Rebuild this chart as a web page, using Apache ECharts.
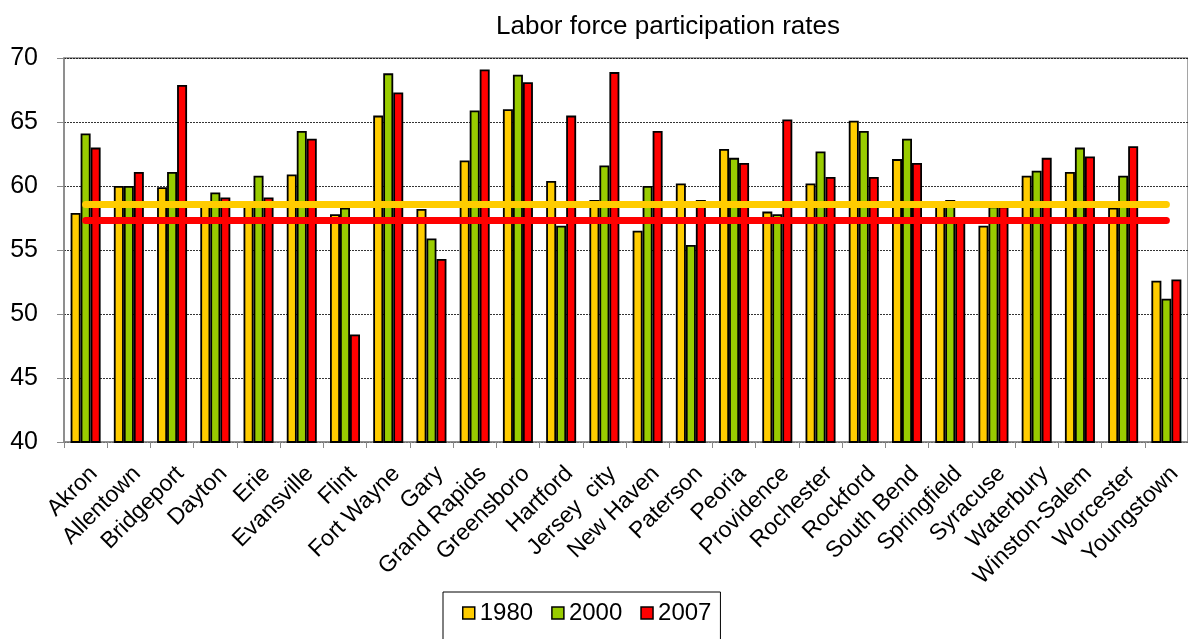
<!DOCTYPE html>
<html>
<head>
<meta charset="utf-8">
<script src="https://cdn.jsdelivr.net/npm/echarts@6/dist/echarts.min.js"></script>
<style>
html,body{margin:0;padding:0;background:#fff;}
#c{width:1188px;height:639px;}
</style>
</head>
<body>
<div id="c"></div>
<script>
const categories = ["Akron","Allentown","Bridgeport","Dayton","Erie","Evansville","Flint","Fort Wayne","Gary","Grand Rapids","Greensboro","Hartford","Jersey  city","New Haven","Paterson","Peoria","Providence","Rochester","Rockford","South Bend","Springfield","Syracuse","Waterbury","Winston-Salem","Worcester","Youngstown"];
const y1980 = [57.9,60.0,59.9,58.5,58.5,60.9,57.8,65.5,58.2,62.0,66.0,60.4,58.9,56.5,60.2,62.9,58.0,60.2,65.1,62.1,58.6,56.9,60.8,61.1,58.3,52.6];
const y2000 = [64.1,60.0,61.1,59.5,60.8,64.3,58.3,68.8,55.9,65.9,68.7,56.9,61.6,60.0,55.4,62.2,57.8,62.7,64.3,63.7,58.9,58.4,61.2,63.0,60.8,51.2];
const y2007 = [63.0,61.1,67.9,59.1,59.1,63.7,48.4,67.3,54.3,69.1,68.1,65.5,68.9,64.3,58.9,61.8,65.2,60.7,60.7,61.8,57.3,58.4,62.2,62.3,63.1,52.7];
const avg1980 = 58.55;
const avg2007 = 57.3;
const yTicks = {min: 40, max: 70, interval: 5};

const FONT = "Liberation Sans, Arial, sans-serif";
const chart = echarts.init(document.getElementById('c'), null, {renderer: 'canvas'});
const first = categories[0], last = categories[categories.length - 1];
const barStyle = (c) => ({color: c, borderColor: '#000', borderWidth: 1.8});
chart.setOption({
  animation: false,
  backgroundColor: '#fff',
  title: {
    text: 'Labor force participation rates',
    left: 491, top: 9,
    textStyle: {fontFamily: FONT, fontSize: 26, fontWeight: 'normal', color: '#000'}
  },
  legend: {
    data: ['1980', '2000', '2007'],
    left: 443, top: 592,
    padding: [9, 9, 30, 19],
    borderColor: '#000', borderWidth: 1,
    itemWidth: 12, itemHeight: 12, itemGap: 18,
    icon: 'rect',
    itemStyle: {borderColor: '#000', borderWidth: 1.5},
    textStyle: {fontFamily: FONT, fontSize: 24, color: '#000'}
  },
  grid: {
    left: 64, top: 58, width: 1126, height: 384,
    show: true, borderColor: '#888', borderWidth: 1.5, backgroundColor: 'transparent'
  },
  xAxis: {
    type: 'category',
    data: categories,
    axisLine: {lineStyle: {color: '#888', width: 1.5}},
    axisTick: {show: true, length: 6, lineStyle: {color: '#888'}},
    axisLabel: {rotate: 45, interval: 0, margin: 20, verticalAlign: 'top', fontFamily: FONT, fontSize: 23, color: '#000'},
    splitLine: {show: false}
  },
  yAxis: {
    type: 'value',
    min: yTicks.min, max: yTicks.max, interval: yTicks.interval,
    axisLine: {show: true, lineStyle: {color: '#888', width: 1.5}},
    axisTick: {show: true, length: 7, lineStyle: {color: '#888'}},
    axisLabel: {margin: 26, fontFamily: FONT, fontSize: 25, color: '#000'},
    splitLine: {show: true, lineStyle: {color: '#000', type: [2, 1], width: 0.8}}
  },
  series: [
    {name: '1980', type: 'bar', data: y1980, barWidth: 10, barGap: '0%', itemStyle: barStyle('#FFCC00'), z: 2},
    {name: '2000', type: 'bar', data: y2000, barWidth: 10, barGap: '0%', itemStyle: barStyle('#99CC00'), z: 2},
    {name: '2007', type: 'bar', data: y2007, barWidth: 10, barGap: '0%', itemStyle: barStyle('#FF0000'), z: 2},
    {name: 'avg1980', type: 'line', data: [[first, avg1980], [last, avg1980]], symbol: 'none',
     lineStyle: {color: '#FFCC00', width: 7, cap: 'round'}, z: 5, silent: true},
    {name: 'avg2007', type: 'line', data: [[first, avg2007], [last, avg2007]], symbol: 'none',
     lineStyle: {color: '#FF0000', width: 7, cap: 'round'}, z: 5, silent: true}
  ]
});
</script>
</body>
</html>
